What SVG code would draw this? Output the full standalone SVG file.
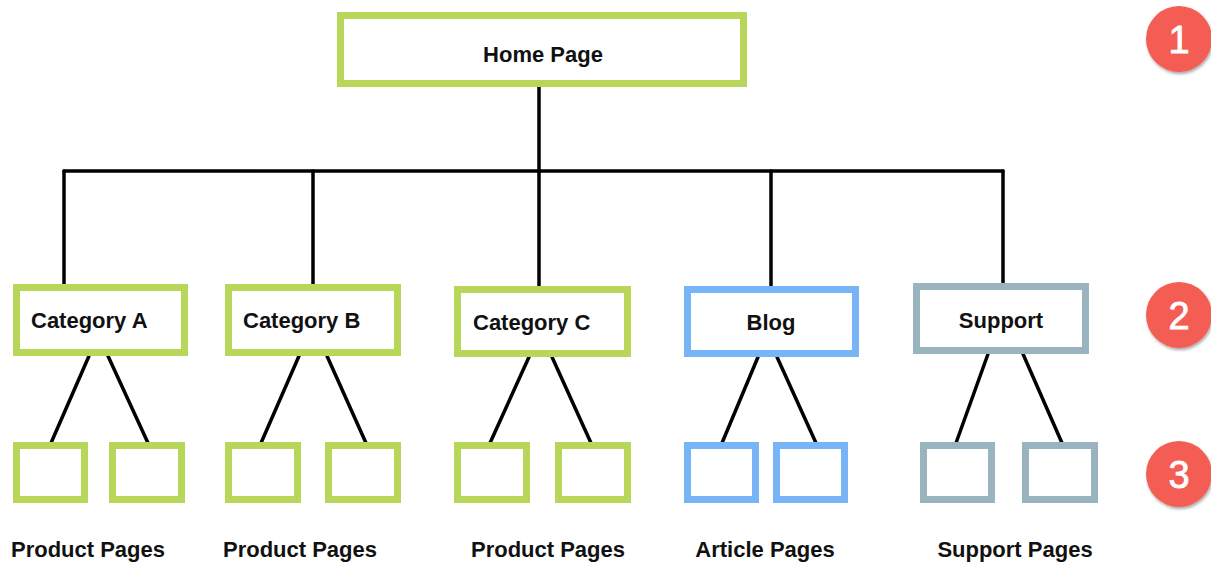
<svg xmlns="http://www.w3.org/2000/svg" width="1211" height="563" viewBox="0 0 1211 563">
  <defs>
    <style>
      .g { fill: #ffffff; stroke: #B7D65A; stroke-width: 7; }
      .b { fill: #ffffff; stroke: #78B5F6; stroke-width: 7; }
      .s { fill: #ffffff; stroke: #99B3BF; stroke-width: 7; }
      .lbl { font-family: "Liberation Sans", Arial, Helvetica, sans-serif; font-weight: bold; font-size: 22px; fill: #111111; }
      .cap { font-family: "Liberation Sans", Arial, Helvetica, sans-serif; font-weight: bold; font-size: 22px; fill: #111111; text-anchor: middle; }
      .conn { stroke: #000000; stroke-width: 3.5; fill: none; stroke-linecap: round; }
      .badge { fill: #F45D52; filter: url(#sh); }
      .num { font-family: "Liberation Sans", Arial, Helvetica, sans-serif; font-size: 38px; fill: #ffffff; text-anchor: middle; stroke: #ffffff; stroke-width: 0.8; }
    </style>
    <filter id="sh" x="-30%" y="-30%" width="160%" height="160%">
      <feDropShadow dx="1" dy="2" stdDeviation="1.5" flood-color="#000000" flood-opacity="0.35"/>
    </filter>
  </defs>
  <rect width="1211" height="563" fill="#ffffff"/>

  <g id="connectors">
    <line class="conn" x1="539" y1="87" x2="539" y2="171"/>
    <line class="conn" x1="64" y1="171" x2="1003" y2="171"/>
    <line class="conn" x1="64" y1="171" x2="64" y2="284"/>
    <line class="conn" x1="313" y1="171" x2="313" y2="284"/>
    <line class="conn" x1="539" y1="171" x2="539" y2="286"/>
    <line class="conn" x1="771" y1="171" x2="771" y2="286"/>
    <line class="conn" x1="1003" y1="171" x2="1003" y2="283"/>
    <line class="conn" x1="89" y1="356" x2="51" y2="443"/>
    <line class="conn" x1="108" y1="356" x2="148" y2="443"/>
    <line class="conn" x1="299" y1="356" x2="261" y2="443"/>
    <line class="conn" x1="327" y1="356" x2="366" y2="443"/>
    <line class="conn" x1="529" y1="357" x2="490" y2="443"/>
    <line class="conn" x1="552" y1="357" x2="591" y2="443"/>
    <line class="conn" x1="758" y1="357" x2="722" y2="443"/>
    <line class="conn" x1="777" y1="357" x2="816" y2="443"/>
    <line class="conn" x1="988" y1="354" x2="956" y2="443"/>
    <line class="conn" x1="1023" y1="354" x2="1062" y2="443"/>
  </g>

  <g id="home">
    <rect class="g" x="340.5" y="15.5" width="403" height="68"/>
    <text class="lbl" x="543" y="62" text-anchor="middle">Home Page</text>
  </g>

  <g id="catA">
    <rect class="g" x="16.5" y="287.5" width="168" height="65"/>
    <text class="lbl" x="31" y="328">Category A</text>
  </g>
  <g id="catB">
    <rect class="g" x="228.5" y="287.5" width="169" height="65"/>
    <text class="lbl" x="243" y="328">Category B</text>
  </g>
  <g id="catC">
    <rect class="g" x="457.5" y="289.5" width="170" height="64"/>
    <text class="lbl" x="473" y="330">Category C</text>
  </g>
  <g id="blog">
    <rect class="b" x="687.5" y="289.5" width="168" height="64"/>
    <text class="lbl" x="771" y="330" text-anchor="middle">Blog</text>
  </g>
  <g id="support">
    <rect class="s" x="916.5" y="286.5" width="169" height="64"/>
    <text class="lbl" x="1001" y="328" text-anchor="middle">Support</text>
  </g>

  <g id="catA-p1"><rect class="g" x="16.5" y="445.5" width="68" height="54"/></g>
  <g id="catA-p2"><rect class="g" x="112.5" y="445.5" width="69" height="54"/></g>
  <g id="catB-p1"><rect class="g" x="228.5" y="445.5" width="69" height="54"/></g>
  <g id="catB-p2"><rect class="g" x="328.5" y="445.5" width="69" height="54"/></g>
  <g id="catC-p1"><rect class="g" x="457.5" y="445.5" width="69" height="54"/></g>
  <g id="catC-p2"><rect class="g" x="558.5" y="445.5" width="69" height="54"/></g>
  <g id="blog-a1"><rect class="b" x="687.5" y="445.5" width="68" height="54"/></g>
  <g id="blog-a2"><rect class="b" x="776.5" y="445.5" width="68" height="54"/></g>
  <g id="support-s1"><rect class="s" x="923.5" y="445.5" width="68" height="54"/></g>
  <g id="support-s2"><rect class="s" x="1025.5" y="445.5" width="69" height="54"/></g>

  <g id="labels">
    <text class="cap" x="88" y="557">Product Pages</text>
    <text class="cap" x="300" y="557">Product Pages</text>
    <text class="cap" x="548" y="557">Product Pages</text>
    <text class="cap" x="765" y="557">Article Pages</text>
    <text class="cap" x="1015" y="557">Support Pages</text>
  </g>

  <g id="badge1">
    <circle class="badge" cx="1179" cy="39" r="33"/>
    <text class="num" x="1179" y="53">1</text>
  </g>
  <g id="badge2">
    <circle class="badge" cx="1179" cy="315" r="33"/>
    <text class="num" x="1179" y="329">2</text>
  </g>
  <g id="badge3">
    <circle class="badge" cx="1179" cy="474" r="33"/>
    <text class="num" x="1179" y="488">3</text>
  </g>
</svg>
